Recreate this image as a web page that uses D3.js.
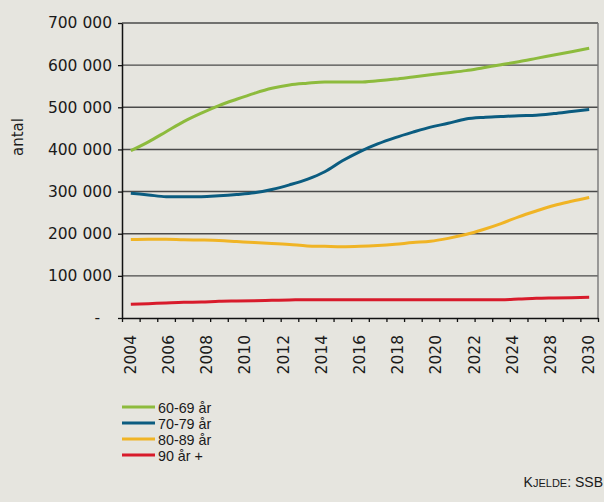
<!DOCTYPE html>
<html>
<head>
<meta charset="utf-8">
<script src="https://cdn.jsdelivr.net/npm/d3@7"></script>
<style>
  body { margin: 0; background: #e6e5df; }
  svg { display: block; }
</style>
</head>
<body>
<svg id="chart"></svg>
<script>
// Data, values in persons
const years = d3.range(2004, 2031);
const tickLabels = ["2004","2006","2008","2010","2012","2014","2016","2018","2020","2022","2024","2028","2030"];
const yTicks = [0, 100000, 200000, 300000, 400000, 500000, 600000, 700000];

const age60 = [397000,418000,442000,466000,486000,504000,519000,533000,545000,553000,557000,560000,560000,560000,
               563000,567000,572000,577000,582000,587000,594000,601000,608000,616000,624000,632000,640000];
const age70 = [296000,292000,288000,288000,288000,290000,293000,297000,305000,316000,329000,347000,373000,395000,
               413000,428000,441000,453000,462000,472000,476000,478000,480000,481000,485000,490000,495000];
const age80 = [186000,187000,187000,185500,185000,184000,181500,179000,177000,174500,171000,170000,169000,170000,
               172000,175000,179000,182000,189000,198000,210000,224000,240000,254000,267000,277000,286000];
const age90 = [32600,34000,35700,37300,38000,39700,40400,41000,42000,42800,43600,43600,43600,43600,
               43600,43600,43600,43600,43600,43600,43600,43600,45000,46800,47600,48300,49000];

const seriesNames = ["60-69 år", "70-79 år", "80-89 år", "90 år +"];
const seriesColors = ["#8dbb3d", "#0b5c80", "#f0b425", "#d81b2b"];
const seriesValues = [age60, age70, age80, age90];

const W = 604, H = 502;
const plotLeft = 122, plotRight = 598, plotTop = 23, plotBottom = 318;

const svg = d3.select("#chart").attr("width", W).attr("height", H);

svg.append("rect").attr("width", W).attr("height", H).attr("fill", "#e6e5df");

const x = d3.scaleLinear().domain([2003.5, 2030.5]).range([plotLeft, plotRight]);
const y = d3.scaleLinear().domain([0, 700000]).range([plotBottom, plotTop]);

// gridlines
svg.append("g")
  .selectAll("line")
  .data(yTicks.filter(d => d > 0))
  .enter().append("line")
  .attr("x1", plotLeft).attr("x2", plotRight)
  .attr("y1", d => y(d)).attr("y2", d => y(d))
  .attr("stroke", "#4a4a4a").attr("stroke-width", 1.4);

// right border
svg.append("line")
  .attr("x1", plotRight).attr("x2", plotRight)
  .attr("y1", plotTop).attr("y2", plotBottom)
  .attr("stroke", "#777").attr("stroke-width", 1.4);

// y axis
const yAxis = svg.append("g")
  .attr("transform", "translate(" + plotLeft + ",0)")
  .call(d3.axisLeft(y).tickValues(yTicks).tickSize(4).tickSizeOuter(0)
    .tickFormat(d => d === 0 ? "-" : d3.format(",")(d).replace(/,/g, " ")));
yAxis.select(".domain").attr("stroke", "#111").attr("stroke-width", 1.5);
yAxis.selectAll(".tick line").attr("stroke", "#111").attr("stroke-width", 1.3);
yAxis.selectAll("text")
  .attr("x", -10)
  .style("font-family", "DejaVu Sans")
  .style("font-size", "15.5px")
  .attr("fill", "#1a1a1a");
yAxis.selectAll(".tick").filter(d => d === 0).select("text").attr("x", -22);

// x axis (ticks at category boundaries)
const xAxis = svg.append("g")
  .attr("transform", "translate(0," + plotBottom + ")")
  .call(d3.axisBottom(x).tickValues(d3.range(2003.5, 2031, 1)).tickSize(4).tickSizeOuter(0).tickFormat(""));
xAxis.select(".domain").attr("stroke", "#111").attr("stroke-width", 1.5);
xAxis.selectAll(".tick line").attr("stroke", "#111").attr("stroke-width", 1.3);

// category labels, spread evenly over the category centres
const xl = d3.scalePoint().domain(tickLabels).range([x(2004), x(2030)]);
svg.append("g")
  .selectAll("text")
  .data(tickLabels)
  .enter().append("text")
  .attr("transform", d => "translate(" + (xl(d) + 5) + ",335)rotate(-90)")
  .attr("text-anchor", "end")
  .style("font-family", "DejaVu Sans")
  .style("font-size", "15.5px")
  .attr("fill", "#1a1a1a")
  .text(d => d);

// y label
svg.append("text")
  .attr("transform", "translate(23,137)rotate(-90)")
  .attr("text-anchor", "middle")
  .style("font-family", "DejaVu Sans")
  .style("font-size", "15px")
  .attr("fill", "#1a1a1a")
  .text("antal");

// lines
const line = d3.line()
  .x((d, i) => x(years[i]))
  .y(d => y(d))
  .curve(d3.curveMonotoneX);

svg.append("g")
  .selectAll("path")
  .data(seriesValues)
  .enter().append("path")
  .attr("d", d => line(d))
  .attr("fill", "none")
  .attr("stroke", (d, i) => seriesColors[i])
  .attr("stroke-width", 3);

// legend
const legend = svg.append("g")
  .selectAll("g")
  .data(seriesNames)
  .enter().append("g")
  .attr("transform", (d, i) => "translate(122," + (407 + i * 16) + ")");
legend.append("line")
  .attr("x1", 0).attr("x2", 33)
  .attr("stroke", (d, i) => seriesColors[i])
  .attr("stroke-width", 3);
legend.append("text")
  .attr("x", 36).attr("y", 5.5)
  .style("font-family", "Liberation Sans")
  .style("font-size", "14.3px")
  .attr("fill", "#1a1a1a")
  .text(d => d);

// source
const src = svg.append("text")
  .attr("x", 603).attr("y", 487)
  .attr("text-anchor", "end")
  .style("font-family", "Liberation Sans")
  .style("font-size", "14px")
  .attr("fill", "#1a1a1a");
src.append("tspan").text("K");
src.append("tspan").style("font-size", "11px").text("JELDE");
src.append("tspan").text(": SSB");
</script>
</body>
</html>
